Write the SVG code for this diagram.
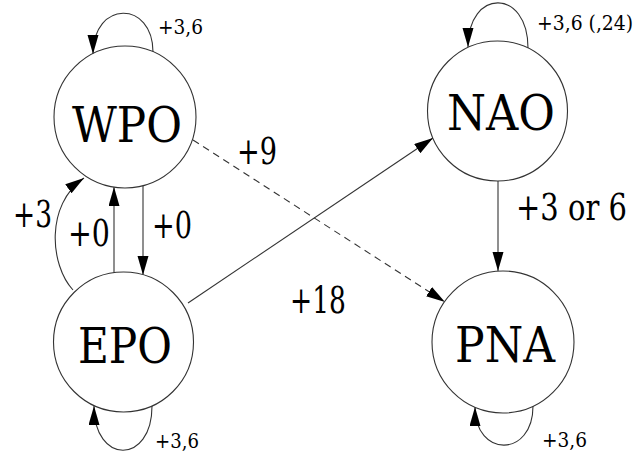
<svg xmlns="http://www.w3.org/2000/svg" width="636" height="457" viewBox="0 0 636 457">
  <defs>
    <marker id="ah" markerUnits="userSpaceOnUse" markerWidth="20" markerHeight="12" refX="19" refY="5.5" orient="auto">
      <path d="M0,0 L19,5.5 L0,11 z" fill="#000"/>
    </marker>
  </defs>
  <style>
    .node circle { fill: #fff; stroke: #333; stroke-width: 1.1; }
    .node text { font-size: 49px; fill: #000; text-anchor: middle; }
    .edge { fill: none; stroke: #333; stroke-width: 1.1; marker-end: url(#ah); }
    .dash { stroke-dasharray: 7 5; }
    .lbl { font-size: 37px; fill: #000; }
    .sl { font-size: 20px; fill: #000; }
  </style>
  <rect width="636" height="457" fill="#fff"/>
  <g id="connectors">
    <path class="edge" d="M153,52 C153,0 93,0 93,54"/>
    <path class="edge" d="M528,48 C528,-12 468,-12 468,47"/>
    <path class="edge" d="M152,406 C152,465 94,465 94,406"/>
    <path class="edge" d="M533,406 C533,458 475,458 475,407"/>
    <path class="edge" d="M143,186 L143,275"/>
    <path class="edge" d="M114,273 L114,187"/>
    <path class="edge" d="M73,290 C50,265 45,205 84,178"/>
    <path class="edge" d="M188,303 L433,138"/>
    <path class="edge dash" d="M193,140 L445,302"/>
    <path class="edge" d="M498,181 L498,271"/>
  </g>
  <g font-family="DejaVu Serif, Liberation Serif, serif">
  <g id="WPO" class="node"><circle cx="125" cy="117" r="71"/><text x="127" y="142" textLength="110" lengthAdjust="spacingAndGlyphs">WPO</text></g>
  <g id="EPO" class="node"><circle cx="123.5" cy="342" r="70"/><text x="125" y="363" textLength="94" lengthAdjust="spacingAndGlyphs">EPO</text></g>
  <g id="NAO" class="node"><circle cx="497.5" cy="111" r="70"/><text x="501" y="130" textLength="108" lengthAdjust="spacingAndGlyphs">NAO</text></g>
  <g id="PNA" class="node"><circle cx="503" cy="342" r="71"/><text x="505" y="362" textLength="100" lengthAdjust="spacingAndGlyphs">PNA</text></g>
  <g id="labels">
    <text class="sl" x="158" y="34" textLength="45" lengthAdjust="spacingAndGlyphs">+3,6</text>
    <text class="sl" transform="translate(537,30) scale(0.94,1)">+3,6 (,24)</text>
    <text class="sl" x="155" y="448" textLength="44" lengthAdjust="spacingAndGlyphs">+3,6</text>
    <text class="sl" x="542" y="447" textLength="45" lengthAdjust="spacingAndGlyphs">+3,6</text>
    <text class="lbl" x="68" y="246" textLength="42" lengthAdjust="spacingAndGlyphs">+0</text>
    <text class="lbl" x="152" y="238" textLength="40" lengthAdjust="spacingAndGlyphs">+0</text>
    <text class="lbl" x="13" y="227" textLength="39" lengthAdjust="spacingAndGlyphs">+3</text>
    <text class="lbl" x="237" y="164" textLength="40" lengthAdjust="spacingAndGlyphs">+9</text>
    <text class="lbl" x="290" y="313" textLength="56" lengthAdjust="spacingAndGlyphs">+18</text>
    <text class="lbl" transform="translate(516,220) scale(0.784,1)">+3 or 6</text>
  </g>
  </g>
</svg>
